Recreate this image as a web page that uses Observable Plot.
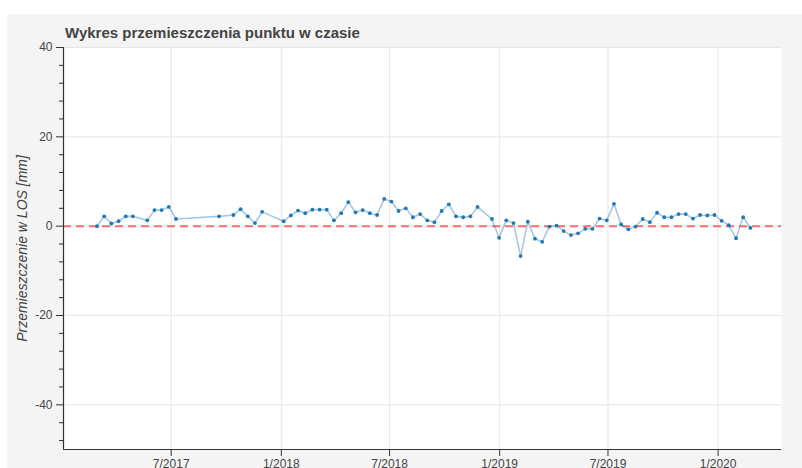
<!DOCTYPE html>
<html>
<head>
<meta charset="utf-8">
<script src="https://cdn.jsdelivr.net/npm/d3@7"></script>
<script src="https://cdn.jsdelivr.net/npm/@observablehq/plot@0.6"></script>
<style>
  html, body { margin: 0; padding: 0; background: #ffffff; width: 802px; height: 468px; overflow: hidden; }
  #panel { position: absolute; left: 7px; top: 14px; width: 795px; height: 454px; background: #f4f4f4; }
  #title { position: absolute; left: 65px; top: 24px; font-family: "Liberation Sans", Arial, sans-serif; font-weight: bold; font-size: 15px; color: #444444; white-space: nowrap; }
  #chart { position: absolute; left: 0; top: 0; }
  #chart svg { overflow: visible; }
</style>
</head>
<body>
<div id="panel"></div>
<div id="title"></div>
<div id="chart"></div>
<script>
const titleText = "Wykres przemieszczenia punktu w czasie";
const yLabel = "Przemieszczenie w LOS [mm]";

const dates = [
  "2017-02-27","2017-03-11","2017-03-23","2017-04-04","2017-04-16","2017-04-28",
  "2017-05-22","2017-06-03","2017-06-15","2017-06-27","2017-07-09",
  "2017-09-19","2017-10-13","2017-10-25","2017-11-06","2017-11-18","2017-11-30",
  "2018-01-05","2018-01-17","2018-01-29","2018-02-10","2018-02-22","2018-03-06",
  "2018-03-18","2018-03-30","2018-04-11","2018-04-23","2018-05-05","2018-05-17",
  "2018-05-29","2018-06-10","2018-06-22","2018-07-04","2018-07-16","2018-07-28",
  "2018-08-09","2018-08-21","2018-09-02","2018-09-14","2018-09-26","2018-10-08",
  "2018-10-20","2018-11-01","2018-11-13","2018-11-25","2018-12-19","2018-12-31",
  "2019-01-12","2019-01-24","2019-02-05","2019-02-17","2019-03-01","2019-03-13",
  "2019-03-25","2019-04-06","2019-04-18","2019-04-30","2019-05-12","2019-05-24",
  "2019-06-05","2019-06-17","2019-06-29","2019-07-11","2019-07-23","2019-08-04",
  "2019-08-16","2019-08-28","2019-09-09","2019-09-21","2019-10-03","2019-10-15",
  "2019-10-27","2019-11-08","2019-11-20","2019-12-02","2019-12-14","2019-12-26",
  "2020-01-07","2020-01-19","2020-01-31","2020-02-12","2020-02-24"
];
const displacement = [
  0.0, 2.2, 0.6, 1.1, 2.2, 2.2,
  1.3, 3.6, 3.6, 4.3, 1.6,
  2.2, 2.5, 3.8, 2.2, 0.7, 3.2,
  1.1, 2.4, 3.5, 2.9, 3.7, 3.7,
  3.7, 1.3, 2.9, 5.4, 3.1, 3.6,
  2.9, 2.5, 6.1, 5.5, 3.4, 4.0,
  2.0, 2.7, 1.3, 0.9, 3.4, 4.9,
  2.2, 2.0, 2.2, 4.3, 1.6, -2.6,
  1.3, 0.7, -6.7, 1.0, -2.8, -3.5,
  -0.1, 0.1, -1.1, -2.0, -1.6, -0.6,
  -0.6, 1.7, 1.3, 5.0, 0.4, -0.7,
  -0.1, 1.6, 0.9, 3.0, 2.0, 2.0,
  2.7, 2.7, 1.7, 2.5, 2.4, 2.5,
  1.2, 0.2, -2.7, 2.0, -0.4
];
const xTicks = ["2017-07-01","2018-01-01","2018-07-01","2019-01-01","2019-07-01","2020-01-01"];
const xDomain = ["2017-01-02","2020-04-16"];
const yMajorTicks = [40, 20, 0, -20, -40];
const yMinorTicks = [36, 32, 28, 24, 16, 12, 8, 4, -4, -8, -12, -16, -24, -28, -32, -36, -44, -48];
const yDomain = [-50, 40];
const referenceLevel = [0];

const parse = d3.utcParse("%Y-%m-%d");
const data = dates.map((d, i) => ({date: parse(d), value: displacement[i]}));
const xTickDates = xTicks.map(parse);
const xDom = xDomain.map(parse);

document.getElementById("title").textContent = titleText;

const axisColor = "#333333";
const chart = Plot.plot({
  width: 802,
  height: 468,
  marginTop: 47,
  marginLeft: 63,
  marginRight: 21,
  marginBottom: 19,
  style: {fontFamily: "'Liberation Sans', Arial, sans-serif", fontSize: "12px", color: "#444444", background: "transparent"},
  x: {type: "utc", domain: xDom},
  y: {domain: yDomain},
  marks: [
    Plot.frame({fill: "#ffffff", stroke: null}),
    Plot.gridX(xTickDates, {stroke: "#e6e6e6", strokeOpacity: 1}),
    Plot.gridY(yMajorTicks, {stroke: "#e6e6e6", strokeOpacity: 1}),
    Plot.ruleY(referenceLevel, {stroke: "#ff0000", strokeOpacity: 0.55, strokeWidth: 2, strokeDasharray: "8,5"}),
    Plot.line(data, {x: "date", y: "value", stroke: "#1f77b4", strokeOpacity: 0.4, strokeWidth: 1.6}),
    Plot.dot(data, {x: "date", y: "value", r: 1.9, fill: "#1f77b4", stroke: null}),
    Plot.axisX(xTickDates, {anchor: "bottom", tickSize: 7, tickPadding: 3, stroke: axisColor, strokeOpacity: 1,
      tickFormat: d => `${d.getUTCMonth() + 1}/${d.getUTCFullYear()}`, label: null}),
    Plot.axisY(yMinorTicks, {anchor: "left", tickSize: 4, tickFormat: () => "", stroke: axisColor, strokeOpacity: 1, label: null}),
    Plot.axisY(yMajorTicks, {anchor: "left", tickSize: 7, tickPadding: 4, stroke: axisColor, strokeOpacity: 1,
      tickFormat: d => `${d}`, label: null}),
    Plot.ruleY([yDomain[0]], {stroke: axisColor, strokeWidth: 1.2}),
    Plot.ruleX([xDom[0]], {stroke: axisColor, strokeWidth: 1.2}),
    Plot.text([yLabel], {text: d => d, frameAnchor: "left", rotate: -90, dx: -41, textAnchor: "middle", fontSize: 14, fontStyle: "italic", fill: "#444444"})
  ]
});
document.getElementById("chart").appendChild(chart);
</script>
</body>
</html>
